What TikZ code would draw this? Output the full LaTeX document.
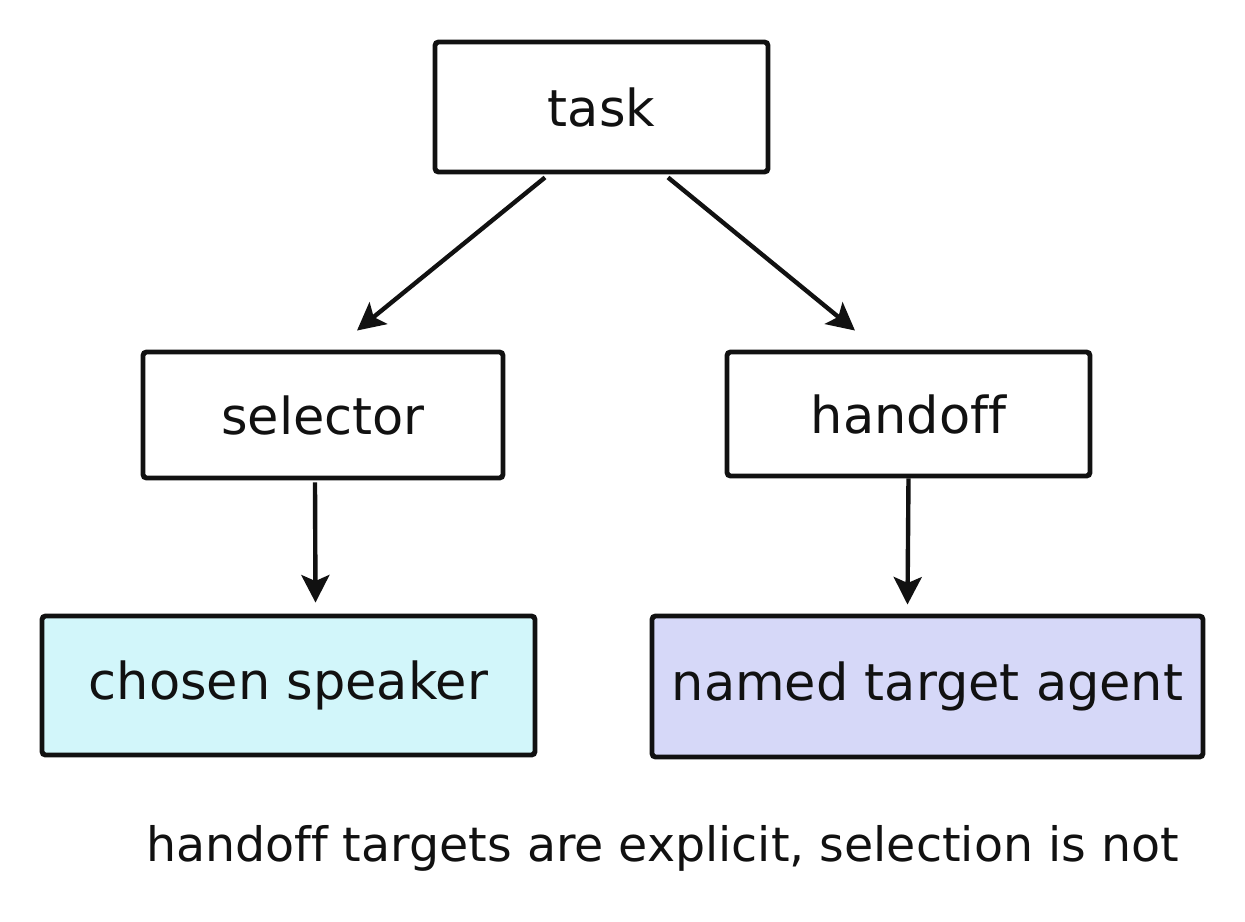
\documentclass[tikz,border=0pt]{standalone}
\usepackage{fontspec}
\setmainfont[Ligatures={NoCommon}]{DejaVu Sans}
\usetikzlibrary{arrows.meta,calc}
\definecolor{ink}{HTML}{111111}
\definecolor{speakerfill}{HTML}{D2F6FA}
\definecolor{agentfill}{HTML}{D6D8F8}
\newcommand{\boxfont}{\fontsize{29}{34}\selectfont}
\newcommand{\notefont}{\fontsize{27}{32}\selectfont}
\tikzset{
 every node/.append style={text=ink,align=center},
 box/.style={draw=ink,fill=white,line width=2.8pt,rounded corners=2pt,inner sep=0pt,font=\boxfont},
 speaker/.style={box,fill=speakerfill},
 agent/.style={box,fill=agentfill},
 note/.style={font=\notefont,inner sep=0pt},
 flow/.style={-{Stealth[length=5.5mm,width=5.6mm,inset=1.2mm]},draw=ink,line width=2.5pt},
}
\begin{document}
\begin{tikzpicture}

\useasboundingbox (0,0) rectangle (24.9,-18.44);

\node[box,minimum width=6.66cm,minimum height=2.6cm] (task) at (12.03,-2.14) {task};
\node[box,minimum width=7.2cm,minimum height=2.52cm] (selector) at (6.46,-8.3) {selector};
\node[box,minimum width=7.26cm,minimum height=2.48cm] (handoff) at (18.17,-8.28) {handoff};
\draw[flow] ($(task.south)+(-1.13,-0.06)$) -- ($(selector.north)+(0.68,0.38)$);
\draw[flow] ($(task.south)+(1.33,-0.06)$) -- ($(handoff.north)+(-1.07,0.38)$);

\node[speaker,minimum width=9.86cm,minimum height=2.78cm] (chosen) at (5.77,-13.71) {chosen speaker};
\node[agent,minimum width=11.02cm,minimum height=2.82cm] (named) at (18.55,-13.73) {named target agent};
\draw[flow] ($(selector.south)+(-0.16,-0.04)$) -- ($(chosen.north)+(0.54,0.22)$);
\draw[flow] (handoff.south) -- ($(named.north)+(-0.4,0.18)$);

\node[note] (caption) at (13.25,-16.96) {handoff targets are explicit, selection is not};

\end{tikzpicture}
\end{document}
